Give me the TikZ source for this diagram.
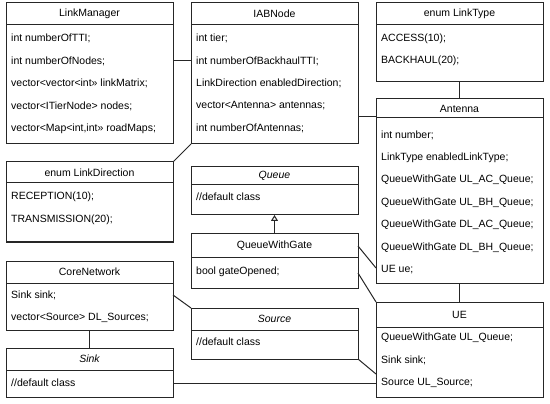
\documentclass[tikz,border=0pt]{standalone}
\usepackage{fontspec}
\setmainfont{Liberation Sans}
\usetikzlibrary{calc,arrows.meta}

\begin{document}
\begin{tikzpicture}[x=1pt,y=-1pt]
\tikzset{classbox/.style={draw=black!85, line width=1pt, rectangle, anchor=north west, inner sep=0pt, outer sep=0pt, minimum width=167pt},
  classname/.style={font=\fontsize{10.5}{12}\selectfont, inner sep=0pt},
  member/.style={font=\fontsize{10.5}{12}\selectfont, anchor=west, inner sep=0pt},
  link/.style={draw=black!85, line width=1pt},
  inherit/.style={link, -{Triangle[open, length=6pt, width=7pt]}}}
\useasboundingbox (0,0) rectangle (550,404);
% LinkManager
\node[classbox, minimum height=141pt] (LinkManager) at (6,3) {};
\draw[link] ($(LinkManager.north west)+(0,22)$) -- ($(LinkManager.north east)+(0,22)$);
\node[classname] (LinkManagerT) at ($(LinkManager.north)+(0,11)$) {LinkManager};
\foreach \txt [count=\i] in {int numberOfTTI;, int numberOfNodes;, {vector<vector<int>> linkMatrix;}, vector<ITierNode> nodes;, {vector<Map<int,int>> roadMaps;}}
  \node[member] (lm\i) at ($(LinkManager.north west)+(5,13+22.5*\i)$) {\txt};
% IABNode
\node[classbox, minimum height=141pt] (IABNode) at (191,3) {};
\draw[link] ($(IABNode.north west)+(0,22)$) -- ($(IABNode.north east)+(0,22)$);
\node[classname] (IABNodeT) at ($(IABNode.north)+(0,11)$) {IABNode};
\foreach \txt [count=\i] in {int tier;, int numberOfBackhaulTTI;, LinkDirection enabledDirection;, vector<Antenna> antennas;, int numberOfAntennas;}
  \node[member] (iab\i) at ($(IABNode.north west)+(5,13+22.5*\i)$) {\txt};
% enum LinkType
\node[classbox, minimum height=79pt] (LinkType) at (376,3) {};
\draw[link] ($(LinkType.north west)+(0,22)$) -- ($(LinkType.north east)+(0,22)$);
\node[classname] (LinkTypeT) at ($(LinkType.north)+(0,11)$) {enum LinkType};
\foreach \txt [count=\i] in {ACCESS(10);, BACKHAUL(20);}
  \node[member] (lt\i) at ($(LinkType.north west)+(5,13+22.5*\i)$) {\txt};
% Antenna
\node[classbox, minimum height=184pt] (Antenna) at (376,99) {};
\draw[link] ($(Antenna.north west)+(0,19)$) -- ($(Antenna.north east)+(0,19)$);
\node[classname] (AntennaT) at ($(Antenna.north)+(0,9.5)$) {Antenna};
\foreach \txt [count=\i] in {int number;, LinkType enabledLinkType;, QueueWithGate UL\_AC\_Queue;, QueueWithGate UL\_BH\_Queue;, QueueWithGate DL\_AC\_Queue;, QueueWithGate DL\_BH\_Queue;, UE ue;}
  \node[member] (ant\i) at ($(Antenna.north west)+(5,13.5+22.5*\i)$) {\txt};
% enum LinkDirection
\node[classbox, minimum height=80pt] (LinkDirection) at (6,162) {};
\draw[link] ($(LinkDirection.north west)+(0,21)$) -- ($(LinkDirection.north east)+(0,21)$);
\node[classname] (LinkDirectionT) at ($(LinkDirection.north)+(0,10.5)$) {enum LinkDirection};
\foreach \txt [count=\i] in {RECEPTION(10);, TRANSMISSION(20);}
  \node[member] (ld\i) at ($(LinkDirection.north west)+(5,12.5+22.5*\i)$) {\txt};
% Queue
\node[classbox, minimum height=48pt] (Queue) at (191,167) {};
\draw[link] ($(Queue.north west)+(0,18)$) -- ($(Queue.north east)+(0,18)$);
\node[classname] (QueueT) at ($(Queue.north)+(0,9)$) {\itshape Queue};
\node[member] (q1) at ($(Queue.north west)+(5,30)$) {//default class};
% QueueWithGate
\node[classbox, minimum height=54pt] (QueueWithGate) at (191,234) {};
\draw[link] ($(QueueWithGate.north west)+(0,23)$) -- ($(QueueWithGate.north east)+(0,23)$);
\node[classname] (QueueWithGateT) at ($(QueueWithGate.north)+(0,11.5)$) {QueueWithGate};
\node[member] (qg1) at ($(QueueWithGate.north west)+(5,38)$) {bool gateOpened;};
% CoreNetwork
\node[classbox, minimum height=69pt] (CoreNetwork) at (6,261) {};
\draw[link] ($(CoreNetwork.north west)+(0,22)$) -- ($(CoreNetwork.north east)+(0,22)$);
\node[classname] (CoreNetworkT) at ($(CoreNetwork.north)+(0,11)$) {CoreNetwork};
\foreach \txt [count=\i] in {Sink sink;, vector<Source> DL\_Sources;}
  \node[member] (cn\i) at ($(CoreNetwork.north west)+(5,11.5+22.5*\i)$) {\txt};
% Source
\node[classbox, minimum height=51pt] (Source) at (191,308) {};
\draw[link] ($(Source.north west)+(0,22)$) -- ($(Source.north east)+(0,22)$);
\node[classname] (SourceT) at ($(Source.north)+(0,11)$) {\itshape Source};
\node[member] (src1) at ($(Source.north west)+(5,34)$) {//default class};
% Sink
\node[classbox, minimum height=49pt] (Sink) at (6,348) {};
\draw[link] ($(Sink.north west)+(0,22)$) -- ($(Sink.north east)+(0,22)$);
\node[classname] (SinkT) at ($(Sink.north)+(0,11)$) {\itshape Sink};
\node[member] (snk1) at ($(Sink.north west)+(5,35)$) {//default class};
% UE
\node[classbox, minimum height=95pt] (UE) at (376,302) {};
\draw[link] ($(UE.north west)+(0,25)$) -- ($(UE.north east)+(0,25)$);
\node[classname] (UET) at ($(UE.north)+(0,12.5)$) {UE};
\foreach \txt [count=\i] in {QueueWithGate UL\_Queue;, Sink sink;, Source UL\_Source;}
  \node[member] (ue\i) at ($(UE.north west)+(5,13.5+22.5*\i)$) {\txt};
% connectors
\coordinate (antport) at ($(Antenna.north west)+(0,18)$);
\draw[link] (LinkManager.east |- lm2) -- (IABNode.west |- lm2);
\draw[link] (IABNode.east |- antport) -- (antport);
\draw[link] (LinkType) -- (Antenna);
\draw[link] (LinkDirection.north east) -- (IABNode.south west);
\draw[inherit] (QueueWithGate) -- (Queue);
\draw[link] ($(QueueWithGate.north east)+(0,12)$) -- ($(Antenna.south west)+(0,-15)$);
\draw[link] ($(QueueWithGate.north east)+(0,39)$) -- (UE.north west);
\draw[link] (Antenna) -- (UE);
\draw[link] (CoreNetwork.east |- cn1) -- (Source.north west);
\draw[link] (CoreNetwork) -- (Sink);
\draw[link] (Source.south east) -- ($(UE.south west)+(0,-23)$);
\draw[link] (Sink.east |- ue3) -- (UE.west |- ue3);
\end{tikzpicture}
\end{document}
